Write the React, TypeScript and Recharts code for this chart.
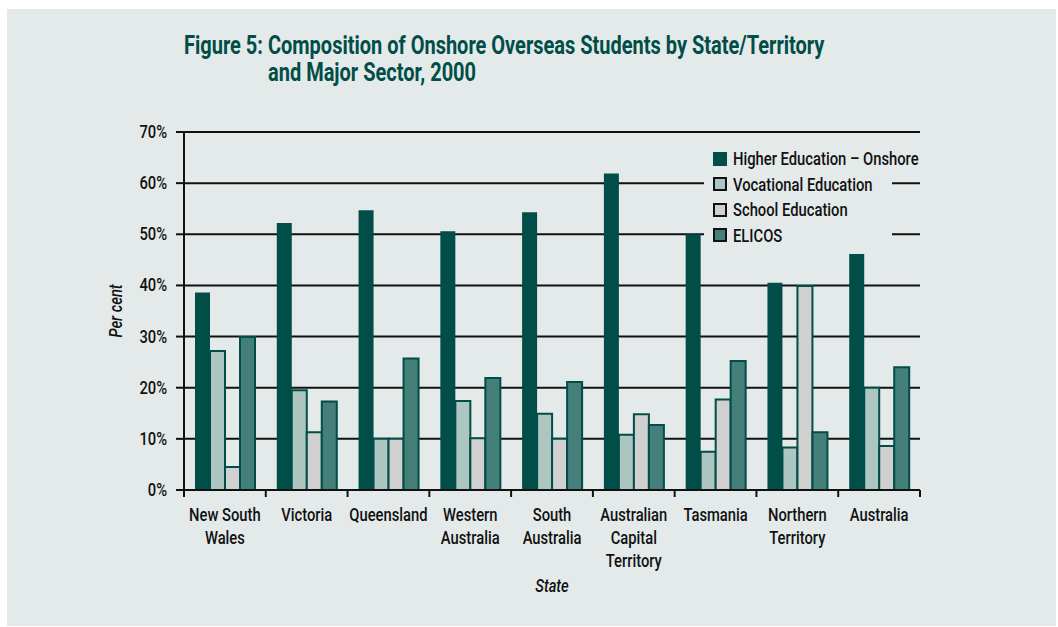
import React from 'react';
import { Bar, BarChart, CartesianGrid, XAxis, YAxis, Label } from 'recharts';

const states = [
  'New South Wales',
  'Victoria',
  'Queensland',
  'Western Australia',
  'South Australia',
  'Australian Capital Territory',
  'Tasmania',
  'Northern Territory',
  'Australia',
];
// how each state name wraps under the axis
const stateLines = [
  ['New South', 'Wales'],
  ['Victoria'],
  ['Queensland'],
  ['Western', 'Australia'],
  ['South', 'Australia'],
  ['Australian', 'Capital', 'Territory'],
  ['Tasmania'],
  ['Northern', 'Territory'],
  ['Australia'],
];

const higherEd = [38.6, 52.2, 54.7, 50.6, 54.3, 61.9, 50.0, 40.5, 47.6];
const vocational = [27.2, 19.5, 10.0, 17.4, 14.9, 10.8, 7.5, 8.3, 20.0];
const school = [4.5, 11.3, 10.0, 10.1, 10.0, 14.8, 17.7, 39.9, 8.6];
const elicos = [29.9, 17.3, 25.7, 21.9, 21.1, 12.7, 25.2, 11.3, 24.0];

const yTicks = [0, 10, 20, 30, 40, 50, 60, 70];

const data = states.map((s, i) => ({
  state: s,
  he: higherEd[i],
  voc: vocational[i],
  school: school[i],
  elicos: elicos[i],
}));

// no condensed font installed, so text is squeezed horizontally
const FONT = 'Roboto, sans-serif';
const SQ = 0.82;
const BG = '#e4eaea';
const DARK = '#014d47';
const INK = '#111';

const series = [
  { key: 'he', name: 'Higher Education \u2013 Onshore', fill: DARK, stroke: 'none', legendStroke: 'none' },
  { key: 'voc', name: 'Vocational Education', fill: '#aec6c2', stroke: DARK, legendStroke: INK },
  { key: 'school', name: 'School Education', fill: '#d0d0d0', stroke: DARK, legendStroke: INK },
  { key: 'elicos', name: 'ELICOS', fill: '#447f79', stroke: DARK, legendStroke: INK },
];

function SqText({ x, y, anchor = 'middle', size = 18, italic = false, rotate = 0, children }: any) {
  return (
    <g transform={`translate(${x},${y}) rotate(${rotate}) scale(${SQ},1)`}>
      <text
        x={0}
        y={0}
        textAnchor={anchor}
        fontSize={size}
        fontWeight={500}
        fontStyle={italic ? 'italic' : 'normal'}
        fill={INK}
        fontFamily={FONT}
      >
        {children}
      </text>
    </g>
  );
}

function StateTick(props: any) {
  const { x, y, payload, index } = props;
  const half = payload && payload.offset ? payload.offset : 40.9;
  const lines = stateLines[index] || [String(payload.value)];
  return (
    <g>
      <line x1={x - half} x2={x - half} y1={y - 8} y2={y - 1} stroke={INK} strokeWidth={2} />
      {index === states.length - 1 && (
        <line x1={x + half} x2={x + half} y1={y - 8} y2={y - 1} stroke={INK} strokeWidth={2} />
      )}
      {lines.map((l: string, i: number) => (
        <SqText key={i} x={x} y={y + 23 + i * 23}>
          {l}
        </SqText>
      ))}
    </g>
  );
}

function PercentTick(props: any) {
  const { x, y, payload } = props;
  return (
    <SqText x={x} y={y + 6} anchor="end">
      {`${payload.value}%`}
    </SqText>
  );
}

function LegendBox() {
  return (
    <div
      style={{
        position: 'absolute',
        left: 704,
        top: 142,
        width: 188,
        background: BG,
        padding: '4px 0 6px 9px',
        fontFamily: FONT,
        boxSizing: 'border-box',
      }}
    >
      {series.map((s) => (
        <div key={s.key} style={{ display: 'flex', alignItems: 'center', height: 25.5, whiteSpace: 'nowrap' }}>
          <svg width={14} height={14} style={{ marginRight: 6, flex: 'none' }}>
            <rect
              x={s.legendStroke === 'none' ? 0 : 1}
              y={s.legendStroke === 'none' ? 0 : 1}
              width={s.legendStroke === 'none' ? 14 : 12}
              height={s.legendStroke === 'none' ? 14 : 12}
              fill={s.fill}
              stroke={s.legendStroke}
              strokeWidth={2}
            />
          </svg>
          <span
            style={{
              fontSize: 18,
              fontWeight: 500,
              color: INK,
              display: 'inline-block',
              transform: `scaleX(${SQ})`,
              transformOrigin: 'left center',
            }}
          >
            {s.name}
          </span>
        </div>
      ))}
    </div>
  );
}

export default function App() {
  return (
    <div style={{ position: 'absolute', left: 0, top: 0, width: 1058, height: 627 }}>
      <div style={{ position: 'absolute', left: 7, top: 9, width: 1049, height: 617, background: BG }} />
      <div
        style={{
          position: 'absolute',
          left: 184,
          top: 32,
          fontFamily: FONT,
          fontWeight: 'bold',
          fontSize: 25,
          lineHeight: '27px',
          color: DARK,
          whiteSpace: 'nowrap',
          transform: 'scaleX(0.8)',
          transformOrigin: 'left top',
        }}
      >
        <div>Figure 5: Composition of Onshore Overseas Students by State/Territory</div>
        <div style={{ paddingLeft: 105 }}>and Major Sector, 2000</div>
      </div>
      <div style={{ position: 'absolute', left: 0, top: 0 }}>
        <BarChart
          width={1058}
          height={627}
          data={data}
          margin={{ top: 132, right: 138, left: 114, bottom: 57 }}
          barCategoryGap={11}
          barGap={0}
        >
          <CartesianGrid vertical={false} stroke={INK} strokeWidth={2} strokeOpacity={1} />
          <XAxis
            dataKey="state"
            interval={0}
            height={80}
            tickLine={false}
            axisLine={{ stroke: INK, strokeWidth: 2 }}
            tick={<StateTick />}
          >
            <Label
              content={(p: any) => {
                const vb = p.viewBox;
                return (
                  <SqText x={vb.x + vb.width / 2} y={592} italic>
                    State
                  </SqText>
                );
              }}
            />
          </XAxis>
          <YAxis
            width={70}
            domain={[0, 70]}
            ticks={yTicks}
            interval={0}
            tickSize={8}
            tickMargin={9}
            tickLine={{ stroke: INK, strokeWidth: 2 }}
            axisLine={{ stroke: INK, strokeWidth: 2 }}
            tick={<PercentTick />}
          >
            <Label
              content={(p: any) => {
                const vb = p.viewBox;
                const cy = vb.y + vb.height / 2;
                return (
                  <SqText x={122} y={cy} rotate={-90} italic>
                    Per cent
                  </SqText>
                );
              }}
            />
          </YAxis>
          {series.map((s) => (
            <Bar
              key={s.key}
              dataKey={s.key}
              name={s.name}
              fill={s.fill}
              stroke={s.stroke}
              strokeWidth={s.stroke === 'none' ? 0 : 2}
              isAnimationActive={false}
            />
          ))}
        </BarChart>
      </div>
      <LegendBox />
    </div>
  );
}
